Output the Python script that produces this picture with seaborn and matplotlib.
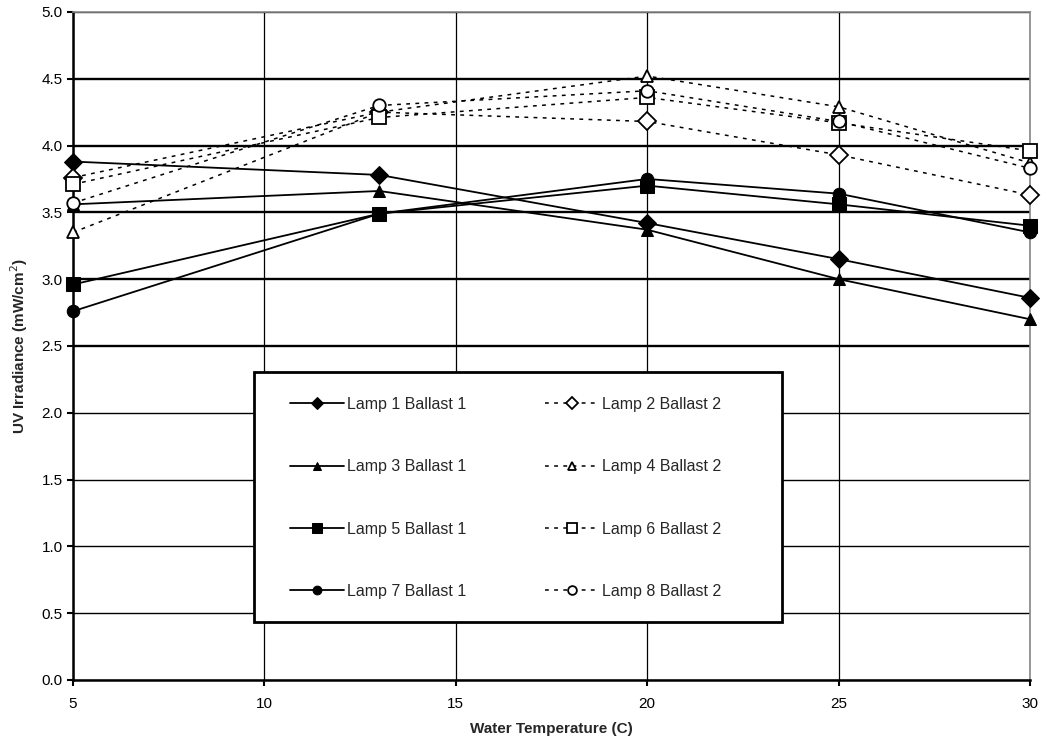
import pandas as pd
import seaborn as sns
import matplotlib
matplotlib.use("Agg")
import matplotlib.pyplot as plt
from matplotlib.patches import Rectangle

# temperaturas medidas
temperatura = [5, 13, 20, 25, 30]

# lecturas UV por lampara (mW/cm2)
lamp1 = [3.88, 3.78, 3.42, 3.15, 2.86]
lamp3 = [3.56, 3.66, 3.37, 3.00, 2.70]
lamp5 = [2.96, 3.49, 3.70, 3.56, 3.40]
lamp7 = [2.76, 3.49, 3.75, 3.64, 3.35]
lamp2 = [3.76, 4.25, 4.18, 3.93, 3.63]
lamp4 = [3.35, 4.25, 4.52, 4.29, 3.87]
lamp6 = [3.71, 4.21, 4.36, 4.17, 3.96]
lamp8 = [3.57, 4.30, 4.41, 4.18, 3.83]

series = {
    "Lamp 1 Ballast 1": (lamp1, "D", True),
    "Lamp 3 Ballast 1": (lamp3, "^", True),
    "Lamp 5 Ballast 1": (lamp5, "s", True),
    "Lamp 7 Ballast 1": (lamp7, "o", True),
    "Lamp 2 Ballast 2": (lamp2, "D", False),
    "Lamp 4 Ballast 2": (lamp4, "^", False),
    "Lamp 6 Ballast 2": (lamp6, "s", False),
    "Lamp 8 Ballast 2": (lamp8, "o", False),
}

sns.set_style("white")
plt.rcParams["font.family"] = ["Liberation Sans", "DejaVu Sans"]

fig = plt.figure(figsize=(10.44, 7.46), dpi=100)
ax = fig.add_axes([0.070, 0.0885, 0.9166, 0.8955])

for nombre, (valores, marca, solido) in series.items():
    df = pd.DataFrame({"temp": temperatura, "uv": valores})
    if solido:
        sns.lineplot(data=df, x="temp", y="uv", ax=ax, color="black", lw=1.3,
                     marker=marca, markersize=9 if marca != "s" else 10,
                     markerfacecolor="black", markeredgecolor="black",
                     label=nombre, clip_on=False, zorder=3)
    else:
        sns.lineplot(data=df, x="temp", y="uv", ax=ax, color="black", lw=1.1,
                     linestyle=(0, (2.5, 3.5)), marker=marca,
                     markersize=9 if marca != "s" else 10,
                     markerfacecolor="white", markeredgecolor="black",
                     markeredgewidth=1.3, label=nombre, clip_on=False, zorder=4)

ax.set_xlim(5, 30)
ax.set_ylim(0, 5)
ax.set_xticks([5, 10, 15, 20, 25, 30])
ax.set_yticks([i * 0.5 for i in range(11)])
ax.set_yticklabels([f"{i * 0.5:.1f}" for i in range(11)])

ax.grid(True, axis="y", color="black", lw=1.0)
ax.grid(True, axis="x", color="black", lw=0.9)
ax.set_axisbelow(True)
# las lineas de la zona alta se ven mas gruesas en el original
for linea, valor in zip(ax.get_ygridlines(), ax.get_yticks()):
    linea.set_linewidth(1.7 if valor >= 2.5 else 1.0)

for lado in ["top", "right"]:
    ax.spines[lado].set_color("#888888")
    ax.spines[lado].set_linewidth(1.2)
for lado in ["left", "bottom"]:
    ax.spines[lado].set_color("black")
    ax.spines[lado].set_linewidth(1.8)

ax.tick_params(axis="both", direction="out", length=4, width=1.5,
               labelsize=11, colors="black", left=True, bottom=True)
ax.tick_params(axis="x", pad=8)

ax.set_xlabel("Water Temperature (C)", fontsize=11, fontweight="bold", labelpad=8)
ax.set_ylabel("UV Irradiance (mW/cm$^{2}$)", fontsize=11, fontweight="bold", labelpad=8)

# marco de la leyenda dibujado aparte
marco = Rectangle((0.189, 0.087), 0.552, 0.374, transform=ax.transAxes,
                  facecolor="white", edgecolor="black", lw=2, zorder=5,
                  clip_on=False)
ax.add_patch(marco)

handles, labels = ax.get_legend_handles_labels()
leg = ax.legend(handles, labels, ncol=2, loc="upper left",
                bbox_to_anchor=(0.2267, 0.4235), frameon=False,
                fontsize=11.5, markerscale=0.7,
                labelspacing=2.96, handlelength=3.4, handletextpad=0.15,
                borderpad=0, columnspacing=4.95, borderaxespad=0)
leg.set_zorder(6)

fig.savefig("out.png", dpi=100)
